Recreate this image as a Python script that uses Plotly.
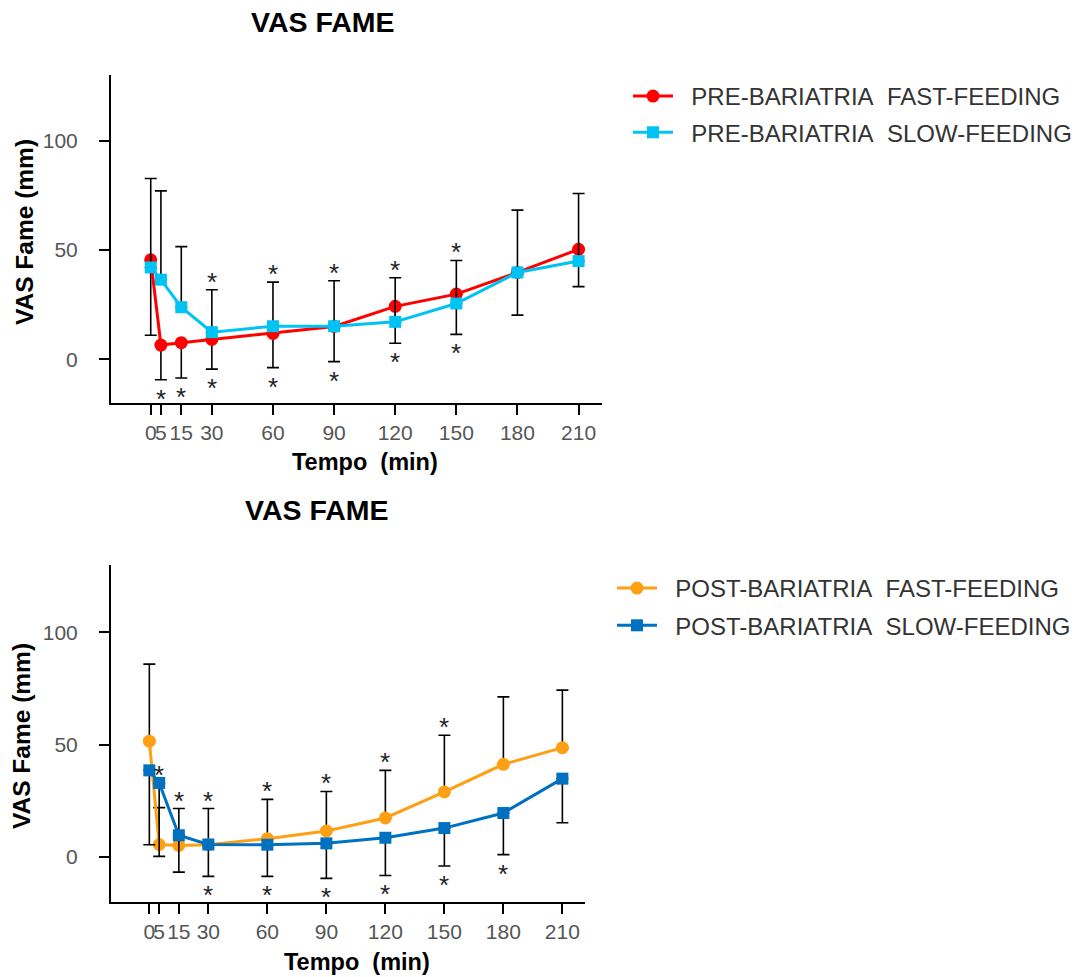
import plotly.graph_objects as go

# ---------------- data ----------------
times = [0, 5, 15, 30, 60, 90, 120, 150, 180, 210]
tick_labels = ["0", "5", "15", "30", "60", "90", "120", "150", "180", "210"]
y_ticks = [0, 50, 100]

# PRE-BARIATRIA
pre_fast = [45.5, 6.5, 7.6, 9.1, 11.8, 15.0, 24.2, 29.8, 39.7, 50.3]
pre_fast_sd_down = [34.5, 15.9, 16.2, 13.6, 15.6, 16.1, 16.9, 18.4, 19.5, 17.1]
pre_slow = [42.0, 36.4, 23.8, 12.4, 15.1, 15.1, 17.1, 25.5, 39.7, 44.9]
pre_slow_sd_up = [40.7, 40.6, 27.7, 19.4, 20.2, 20.8, 20.2, 19.7, 28.5, 30.9]
pre_star_up = [0, 0, 0, 1, 1, 1, 1, 1, 0, 0]
pre_star_down = [0, 1, 1, 1, 1, 1, 1, 1, 0, 0]

# POST-BARIATRIA
post_fast = [51.6, 5.6, 5.2, 5.5, 8.2, 11.6, 17.4, 29.0, 41.3, 48.7]
post_fast_sd_up = [34.3, 16.4, 16.4, 16.1, 17.5, 17.6, 21.2, 25.2, 30.0, 25.6]
post_slow = [38.6, 33.0, 9.7, 5.6, 5.5, 6.1, 8.6, 12.9, 19.6, 34.9]
post_slow_sd_down = [33.1, 32.7, 16.4, 14.2, 14.1, 15.6, 16.8, 16.9, 18.5, 19.6]
post_star_up = [0, 1, 1, 1, 1, 1, 1, 1, 0, 0]
post_star_down = [0, 0, 0, 1, 1, 1, 1, 1, 1, 0]

series_names = [
    "\u00a0\u00a0PRE-BARIATRIA\u00a0 FAST-FEEDING",
    "\u00a0\u00a0PRE-BARIATRIA\u00a0 SLOW-FEEDING",
    "\u00a0\u00a0POST-BARIATRIA\u00a0 FAST-FEEDING",
    "\u00a0\u00a0POST-BARIATRIA\u00a0 SLOW-FEEDING",
]
colors = ["#FF0000", "#00C3F5", "#FFA014", "#0070C0"]
chart_title = "VAS FAME"
x_title = "Tempo\u00a0 (min)"
y_title = "VAS Fame (mm)"

FONT = "Liberation Sans, Arial, sans-serif"
W, H = 1092, 977

fig = go.Figure()


def add_series(name, y, color, symbol, xa, ya, legend, up=None, down=None, msize=12.5):
    err = dict(type="data", symmetric=False, color="black", thickness=1.6, width=6)
    if up is not None:
        err["array"] = up
        err["arrayminus"] = [0] * len(up)
    else:
        err["array"] = [0] * len(down)
        err["arrayminus"] = down
    fig.add_trace(go.Scatter(
        x=times, y=y, name=name, mode="lines+markers",
        line=dict(color=color, width=3),
        marker=dict(color=color, size=msize, symbol=symbol),
        error_y=err, xaxis=xa, yaxis=ya, legend=legend, legendgroup=name,
    ))


add_series(series_names[0], pre_fast, colors[0], "circle", "x", "y", "legend", down=pre_fast_sd_down, msize=13)
add_series(series_names[1], pre_slow, colors[1], "square", "x", "y", "legend", up=pre_slow_sd_up, msize=12)
add_series(series_names[2], post_fast, colors[2], "circle", "x2", "y2", "legend2", up=post_fast_sd_up, msize=13)
add_series(series_names[3], post_slow, colors[3], "square", "x2", "y2", "legend2", down=post_slow_sd_down, msize=12)

annotations = []


def add_stars(xref, yref, vals_list, ups, downs, star_up, star_down):
    for i, t in enumerate(times):
        top = max([v[i] for v in vals_list] + [u[i] for u in ups])
        bot = min([v[i] for v in vals_list] + [d[i] for d in downs])
        if star_up[i]:
            annotations.append(dict(x=t, y=top, xref=xref, yref=yref, text="*", showarrow=False,
                                     font=dict(family=FONT, size=26, color="#222222"),
                                     yanchor="middle", yshift=8))
        if star_down[i]:
            annotations.append(dict(x=t, y=bot, xref=xref, yref=yref, text="*", showarrow=False,
                                     font=dict(family=FONT, size=26, color="#222222"),
                                     yanchor="middle", yshift=-19))


add_stars("x", "y", [pre_fast, pre_slow],
          [[a + b for a, b in zip(pre_slow, pre_slow_sd_up)]],
          [[a - b for a, b in zip(pre_fast, pre_fast_sd_down)]],
          pre_star_up, pre_star_down)
add_stars("x2", "y2", [post_fast, post_slow],
          [[a + b for a, b in zip(post_fast, post_fast_sd_up)]],
          [[a - b for a, b in zip(post_slow, post_slow_sd_down)]],
          post_star_up, post_star_down)


def paper_text(text, px, py, size, angle=0):
    annotations.append(dict(text="<b>" + text + "</b>", x=px / W, y=1 - py / H, xref="paper", yref="paper",
                            showarrow=False, textangle=angle,
                            font=dict(family=FONT, size=size, color="black"),
                            xanchor="center", yanchor="middle"))


# chart titles
paper_text(chart_title, 323, 22, 28.5)
paper_text(chart_title, 317, 510, 28.5)
# axis titles
paper_text(x_title, 365, 462, 23.5)
paper_text(x_title, 357, 962, 23.5)
paper_text(y_title, 24, 232, 24.5, angle=-90)
paper_text(y_title, 21, 736, 24.5, angle=-90)

axis_common = dict(
    showline=True, linecolor="black", linewidth=2,
    ticks="outside", tickcolor="black", ticklen=10, tickwidth=2,
    showgrid=False, zeroline=False,
    tickfont=dict(family=FONT, size=21, color="#555555"),
)

legend_common = dict(xanchor="left", yanchor="top",
                     font=dict(family=FONT, size=24, color="#333333"),
                     bgcolor="rgba(0,0,0,0)", itemwidth=40)

fig.update_layout(
    width=W, height=H,
    margin=dict(l=0, r=0, t=0, b=0),
    paper_bgcolor="white", plot_bgcolor="white",
    showlegend=True,
    annotations=annotations,
    xaxis=dict(domain=[111 / W, 602 / W], range=[-19.5, 221.5], anchor="y",
               tickvals=times, ticktext=tick_labels, tickangle=0, **axis_common),
    yaxis=dict(domain=[1 - 403 / H, 1 - 75 / H], range=[-20, 130], anchor="x",
               tickvals=y_ticks, ticklabelstandoff=17, **axis_common),
    xaxis2=dict(domain=[111 / W, 585 / W], range=[-19.5, 221.5], anchor="y2",
                tickvals=times, ticktext=tick_labels, tickangle=0, **axis_common),
    yaxis2=dict(domain=[1 - 902 / H, 1 - 565 / H], range=[-20, 130], anchor="x2",
                tickvals=y_ticks, ticklabelstandoff=17, **axis_common),
    legend=dict(x=628 / W, y=1 - 74 / H, tracegroupgap=2, **legend_common),
    legend2=dict(x=612 / W, y=1 - 566 / H, tracegroupgap=3, **legend_common),
)

fig.write_html("out.html")
